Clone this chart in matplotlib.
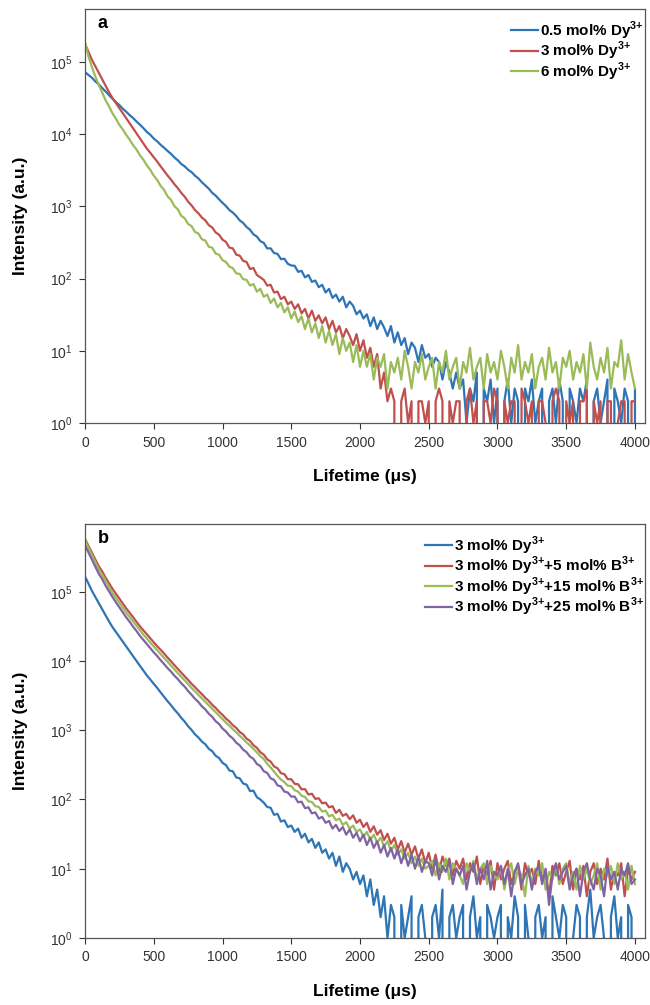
import numpy as np
import matplotlib
matplotlib.use("Agg")
import matplotlib.pyplot as plt
from matplotlib.ticker import NullLocator

plt.rcParams['font.family'] = ['Liberation Sans', 'DejaVu Sans']
plt.rcParams['mathtext.fontset'] = 'custom'
plt.rcParams['mathtext.rm'] = 'Liberation Sans'
plt.rcParams['mathtext.bf'] = 'Liberation Sans:bold'

# time axis (us), one reading every 25 us
t = np.arange(0, 4001, 25)

# panel a: decay counts
dy05 = [72400, 66000, 60500, 53600, 49100, 43500, 39000, 34600, 30900, 27800,
        25200, 22500, 20400, 18300, 16700, 14900, 13500, 12100, 10700, 9800,
        8680, 7960, 7120, 6490, 5860, 5340, 4760, 4350, 3860, 3580,
        3210, 2980, 2660, 2430, 2160, 1950, 1760, 1540, 1410, 1250,
        1120, 1010, 890, 820, 735, 640, 590, 518, 475, 410,
        382, 330, 312, 262, 262, 226, 220, 186, 188, 160,
        152, 150, 124, 128, 104, 112, 90, 94, 76, 82,
        64, 72, 54, 60, 48, 56, 40, 48, 42, 32,
        36, 28, 32, 22, 29, 20, 26, 21, 16, 22,
        13, 18, 12, 15, 9, 13, 11, 7, 12, 8,
        9, 6, 8, 7, 4, 7, 5, 3, 5, 3,
        4, 1, 3, 2, 5, 0, 3, 2, 4, 1,
        3, 0, 2, 4, 1, 3, 2, 0, 3, 2,
        4, 1, 2, 3, 0, 2, 3, 1, 4, 2,
        0, 3, 2, 1, 3, 2, 4, 0, 2, 3,
        1, 2, 4, 0, 3, 2, 1, 3, 2, 0,
        3]
dy3 = [178000, 138000, 107000, 87000, 70900, 57400, 46900, 38000, 31500, 26900,
       22900, 19500, 16600, 14100, 12000, 10200, 8700, 7420, 6300, 5510,
       4780, 4180, 3580, 3100, 2680, 2350, 2030, 1790, 1540, 1360,
       1160, 1030, 890, 800, 700, 640, 550, 510, 436, 405,
       346, 322, 268, 262, 214, 208, 176, 170, 136, 140,
       112, 104, 96, 80, 82, 64, 66, 52, 56, 44,
       48, 38, 44, 33, 38, 28, 36, 26, 31, 24,
       29, 20, 26, 18, 22, 15, 20, 16, 12, 17,
       10, 14, 8, 11, 6, 9, 3, 5, 2, 3,
       2, 0, 2, 3, 1, 2, 0, 2, 2, 1,
       2, 0, 2, 3, 2, 0, 2, 1, 2, 2,
       0, 2, 3, 1, 2, 0, 2, 2, 1, 3,
       2, 0, 2, 1, 2, 2, 0, 3, 2, 1,
       2, 0, 2, 2, 1, 0, 2, 3, 2, 0,
       2, 1, 2, 0, 2, 2, 3, 0, 2, 1,
       2, 0, 2, 2, 0, 1, 2, 2, 0, 2,
       2]
dy6 = [186000, 120000, 85000, 63000, 47800, 37700, 29400, 24100, 19400, 16300,
       13400, 11600, 9720, 8380, 7010, 6100, 5080, 4420, 3680, 3200,
       2660, 2320, 1920, 1690, 1380, 1230, 1010, 910, 738, 684,
       570, 532, 442, 420, 350, 336, 276, 268, 222, 214,
       180, 170, 146, 140, 118, 116, 98, 96, 80, 84,
       66, 72, 56, 60, 46, 53, 40, 46, 34, 40,
       28, 35, 25, 30, 20, 28, 18, 24, 15, 22,
       13, 19, 12, 17, 9, 15, 10, 13, 7, 12,
       6, 10, 6, 9, 4, 8, 6, 9, 3, 7,
       5, 8, 4, 10, 6, 3, 7, 5, 9, 4,
       6, 8, 3, 7, 5, 10, 4, 6, 8, 3,
       7, 5, 11, 4, 6, 8, 3, 9, 5, 7,
       4, 10, 6, 3, 8, 5, 12, 4, 7, 5,
       9, 3, 6, 8, 4, 11, 5, 7, 3, 8,
       6, 10, 4, 7, 5, 9, 3, 13, 6, 4,
       8, 5, 11, 3, 7, 6, 14, 4, 9, 5,
       3]

# panel b: 3 mol% Dy alone and co-doped with B
dy3_b = [165000, 131000, 103000, 84000, 68800, 55900, 45600, 37100, 30800, 26200,
         22300, 19000, 16200, 13800, 11700, 9960, 8500, 7250, 6170, 5390,
         4680, 4090, 3510, 3040, 2630, 2300, 1990, 1750, 1510, 1330,
         1140, 1010, 872, 784, 686, 626, 540, 498, 428, 396,
         338, 314, 262, 255, 208, 202, 170, 164, 132, 134,
         108, 100, 90, 78, 76, 60, 62, 48, 50, 40,
         42, 34, 38, 28, 32, 24, 27, 20, 24, 17,
         19, 14, 17, 11, 15, 9, 12, 10, 7, 9,
         6, 8, 4, 7, 3, 5, 2, 4, 1, 3,
         2, 0, 3, 1, 2, 4, 0, 2, 3, 1,
         0, 2, 3, 1, 5, 0, 2, 3, 1, 2,
         3, 0, 2, 4, 1, 2, 0, 3, 2, 1,
         2, 3, 0, 2, 1, 4, 2, 0, 3, 1,
         0, 2, 3, 1, 2, 0, 4, 2, 1, 3,
         2, 0, 1, 3, 2, 0, 2, 5, 1, 2,
         3, 1, 0, 2, 4, 1, 2, 0, 3, 2,
         0]
b5 = [575000, 458000, 366000, 293000, 233000, 196000, 159000, 132000, 110000, 93400,
      79300, 67700, 57400, 49600, 42600, 36800, 31500, 27600, 24200, 21200,
      18600, 16300, 14500, 12800, 11200, 9870, 8730, 7650, 6770, 6010,
      5320, 4670, 4180, 3710, 3320, 2940, 2640, 2330, 2100, 1850,
      1670, 1470, 1340, 1180, 1080, 945, 870, 758, 700, 608,
      556, 482, 444, 380, 352, 300, 282, 240, 232, 196,
      196, 168, 166, 140, 141, 118, 121, 102, 104, 88,
      90, 77, 80, 64, 71, 58, 62, 52, 59, 46,
      51, 40, 46, 34, 41, 31, 36, 26, 32, 23,
      28, 19, 25, 17, 23, 16, 21, 14, 19, 12,
      17, 10, 16, 9, 15, 11, 14, 8, 13, 10,
      14, 7, 12, 9, 15, 6, 11, 8, 13, 5,
      12, 7, 10, 13, 6, 9, 11, 5, 12, 8,
      10, 6, 13, 7, 9, 4, 11, 8, 12, 6,
      9, 13, 5, 10, 7, 11, 4, 9, 12, 6,
      10, 7, 14, 5, 9, 8, 12, 4, 10, 7,
      9]
b15 = [549000, 430000, 340000, 268000, 211000, 175000, 143000, 117000, 96000, 81800,
       69100, 58800, 50000, 43100, 37100, 31900, 27500, 23900, 21100, 18400,
       16200, 14300, 12600, 11000, 9740, 8600, 7580, 6670, 5880, 5250,
       4620, 4070, 3630, 3240, 2880, 2570, 2290, 2040, 1820, 1620,
       1440, 1290, 1160, 1035, 931, 831, 749, 667, 602, 537,
       480, 424, 382, 328, 290, 252, 219, 194, 178, 158,
       156, 136, 130, 113, 109, 94, 92, 80, 78, 67,
       69, 57, 60, 50, 53, 43, 47, 38, 42, 34,
       37, 29, 34, 26, 31, 24, 28, 21, 25, 18,
       22, 16, 19, 14, 17, 12, 15, 11, 14, 10,
       11, 13, 8, 12, 9, 14, 7, 12, 10, 8,
       6, 12, 9, 13, 7, 10, 12, 6, 11, 8,
       7, 11, 5, 9, 12, 6, 10, 8, 4, 11,
       6, 10, 8, 12, 5, 9, 7, 11, 6, 10,
       12, 6, 9, 5, 11, 7, 10, 6, 8, 12,
       5, 10, 8, 11, 6, 12, 7, 9, 5, 11,
       6]
b25 = [467000, 369000, 293000, 232000, 182000, 152000, 122000, 101000, 83700, 70300,
       59500, 50600, 42600, 36700, 31300, 27000, 23000, 20100, 17500, 15300,
       13300, 11800, 10250, 9050, 7900, 7040, 6130, 5470, 4760, 4250,
       3680, 3250, 2840, 2550, 2210, 2000, 1730, 1560, 1350, 1230,
       1060, 958, 835, 762, 660, 606, 524, 482, 416, 386,
       326, 304, 256, 242, 202, 192, 160, 154, 130, 126,
       110, 110, 91, 93, 75, 77, 63, 65, 53, 56,
       46, 49, 38, 43, 35, 40, 31, 37, 28, 33,
       25, 31, 22, 28, 20, 25, 17, 22, 15, 20,
       14, 19, 12, 17, 11, 16, 10, 15, 9, 13,
       12, 8, 14, 7, 11, 9, 13, 6, 10, 8,
       11, 5, 9, 12, 6, 10, 7, 13, 5, 9,
       8, 11, 6, 10, 4, 9, 12, 6, 8, 10,
       5, 9, 11, 6, 10, 3, 8, 12, 7, 9,
       11, 5, 8, 10, 4, 9, 12, 7, 5, 10,
       8, 4, 11, 7, 9, 5, 10, 8, 12, 6,
       7]

blue = '#2E75B6'
red = '#C0504D'
green = '#9BBB59'
purple = '#8064A2'

dy = r'Dy$^{\mathbf{3{+}}}$'
bb = r'B$^{\mathbf{3{+}}}$'
series_a = [(dy05, blue, '0.5 mol% ' + dy),
            (dy3, red, '3 mol% ' + dy),
            (dy6, green, '6 mol% ' + dy)]
series_b = [(dy3_b, blue, '3 mol% ' + dy),
            (b5, red, '3 mol% ' + dy + '+5 mol% ' + bb),
            (b15, green, '3 mol% ' + dy + '+15 mol% ' + bb),
            (b25, purple, '3 mol% ' + dy + '+25 mol% ' + bb)]

fig = plt.figure(figsize=(6.5, 10.05), dpi=100)
ax_a = fig.add_axes([0.1308, 0.5791, 0.8615, 0.4119])
ax_b = fig.add_axes([0.1308, 0.0667, 0.8615, 0.4119])


def setup(ax, series, letter, ytop):
    for y, c, lab in series:
        ax.plot(t, np.array(y, dtype=float), color=c, lw=1.6, label=lab)
    ax.set_yscale('log')
    ax.set_ylim(1, ytop)
    ax.set_xlim(0, 4073)
    ax.set_yticks([1, 10, 100, 1e3, 1e4, 1e5])
    ax.yaxis.set_minor_locator(NullLocator())
    ax.set_xticks(range(0, 4001, 500))
    ax.tick_params(direction='out', length=4, width=0.8, labelsize=10,
                   pad=5, colors='#333333', top=False, right=False)
    for s in ax.spines.values():
        s.set_color('#555555')
        s.set_linewidth(0.9)
    ax.set_xlabel('Lifetime (μs)', fontsize=12.5, fontweight='bold', labelpad=14)
    ax.set_ylabel('Intensity (a.u.)', fontsize=12.5, fontweight='bold', labelpad=16)
    ax.text(0.022, 0.985, letter, transform=ax.transAxes, fontsize=13,
            fontweight='bold', va='top', ha='left')
    ax.legend(loc='upper right', bbox_to_anchor=(1.007, 0.988), frameon=False,
              handlelength=1.8, handletextpad=0.1, labelspacing=-0.12,
              borderaxespad=0.0, borderpad=0.35,
              prop={'weight': 'bold', 'size': 11})


setup(ax_a, series_a, 'a', 5.4e5)
setup(ax_b, series_b, 'b', 9.5e5)

fig.savefig('out.png', dpi=100)
